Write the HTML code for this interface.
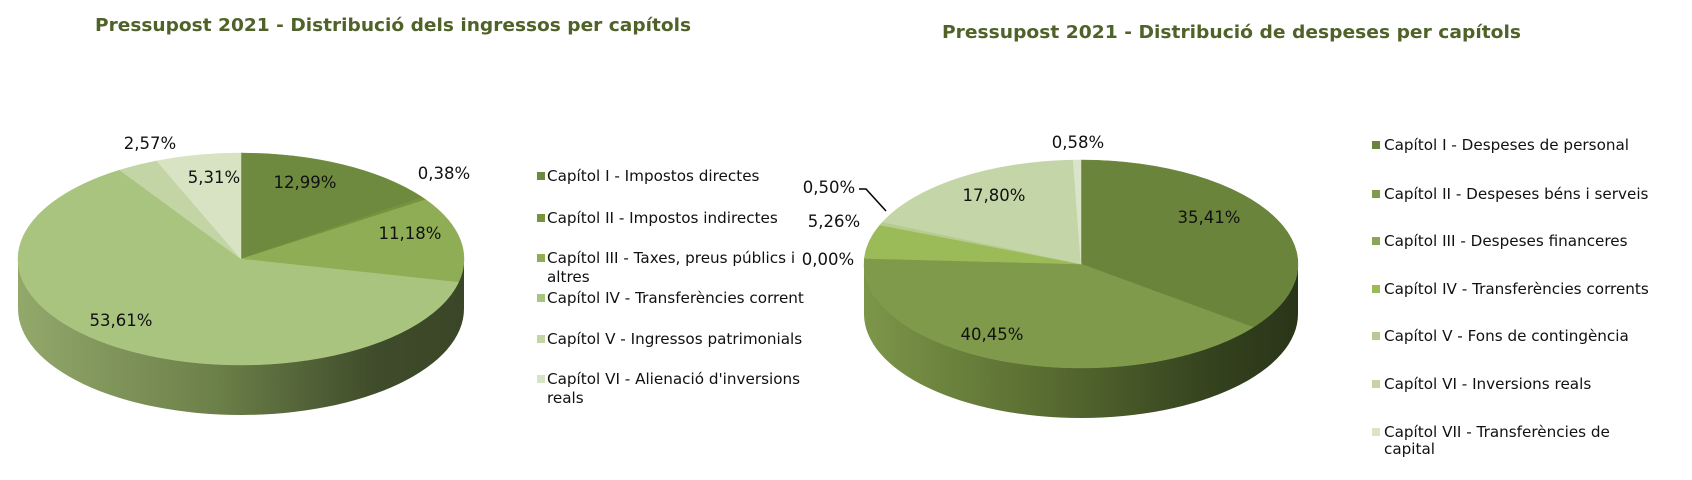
<!DOCTYPE html>
<html><head><meta charset="utf-8"><style>
body{margin:0;background:#fff;width:1692px;height:475px;overflow:hidden}
svg text{font-family:"DejaVu Sans","Liberation Sans",sans-serif}
</style></head><body>
<svg id="s" width="1692" height="475" xmlns="http://www.w3.org/2000/svg">
<defs>
<linearGradient id="gL" x1="0" x2="1" y1="0" y2="0"><stop offset="0" stop-color="#93a86b"/><stop offset="0.45" stop-color="#6b7f48"/><stop offset="0.8" stop-color="#3f4c2b"/><stop offset="1" stop-color="#3a4627"/></linearGradient>
<linearGradient id="gR" x1="0" x2="1" y1="0" y2="0"><stop offset="0" stop-color="#7c9649"/><stop offset="0.45" stop-color="#56692f"/><stop offset="0.8" stop-color="#34421e"/><stop offset="1" stop-color="#2a3518"/></linearGradient>
</defs>
<g id="pies"></g>
<text x="95" y="31" font-size="18" font-weight="bold" fill="#4f6228" textLength="596" lengthAdjust="spacingAndGlyphs">Pressupost 2021 - Distribució dels ingressos per capítols</text>
<text x="942" y="38" font-size="18" font-weight="bold" fill="#4f6228" textLength="579" lengthAdjust="spacingAndGlyphs">Pressupost 2021 - Distribució de despeses per capítols</text>
<g font-size="16.5" fill="#111" text-anchor="middle">
<text x="305" y="188">12,99%</text><text x="444" y="179">0,38%</text><text x="410" y="239">11,18%</text>
<text x="121" y="326">53,61%</text><text x="150" y="149">2,57%</text><text x="214" y="183">5,31%</text>
<text x="1078" y="148">0,58%</text><text x="994" y="201">17,80%</text><text x="1209" y="223">35,41%</text>
<text x="829" y="193">0,50%</text><text x="834" y="227">5,26%</text><text x="828" y="265">0,00%</text><text x="992" y="340">40,45%</text>
</g>
<polyline points="859,189 866,189 886,211" fill="none" stroke="#000" stroke-width="1.5"/>
<g font-size="15.2" fill="#111">
<rect x="537" y="172" width="8" height="8" fill="#6e8a3e"/><text x="547" y="181">Capítol I - Impostos directes</text>
<rect x="537" y="214" width="8" height="8" fill="#77933c"/><text x="547" y="223">Capítol II - Impostos indirectes</text>
<rect x="537" y="254" width="8" height="8" fill="#8fad55"/><text x="547" y="263">Capítol III - Taxes, preus públics i</text><text x="547" y="282">altres</text>
<rect x="537" y="294" width="8" height="8" fill="#a9c47f"/><text x="547" y="303">Capítol IV - Transferències corrent</text>
<rect x="537" y="335" width="8" height="8" fill="#c3d5a5"/><text x="547" y="344">Capítol V - Ingressos patrimonials</text>
<rect x="537" y="375" width="8" height="8" fill="#d7e3c2"/><text x="547" y="384">Capítol VI - Alienació d'inversions</text><text x="547" y="403">reals</text>
<rect x="1372" y="141" width="8" height="8" fill="#6b843b"/><text x="1384" y="150">Capítol I - Despeses de personal</text>
<rect x="1372" y="190" width="8" height="8" fill="#7f9a4a"/><text x="1384" y="199">Capítol II - Despeses béns i serveis</text>
<rect x="1372" y="237" width="8" height="8" fill="#8aa656"/><text x="1384" y="246">Capítol III - Despeses financeres</text>
<rect x="1372" y="285" width="8" height="8" fill="#9bbb59"/><text x="1384" y="294">Capítol IV - Transferències corrents</text>
<rect x="1372" y="332" width="8" height="8" fill="#b5cc8e"/><text x="1384" y="341">Capítol V - Fons de contingència</text>
<rect x="1372" y="380" width="8" height="8" fill="#c4d5a8"/><text x="1384" y="389">Capítol VI - Inversions reals</text>
<rect x="1372" y="428" width="8" height="8" fill="#d9e4c8"/><text x="1384" y="437">Capítol VII - Transferències de</text><text x="1384" y="454">capital</text>
</g>
</svg>
<script>
(function(){
var g=document.getElementById('pies');var NS='http://www.w3.org/2000/svg';
function pie(cx,cy,rx,ry,d,vals,cols,grad){
 var side=document.createElementNS(NS,'path');
 side.setAttribute('d','M'+(cx-rx)+','+cy+' A'+rx+','+ry+' 0 0 0 '+(cx+rx)+','+cy+' L'+(cx+rx)+','+(cy+d)+' A'+rx+','+ry+' 0 0 1 '+(cx-rx)+','+(cy+d)+' Z');
 side.setAttribute('fill',grad);g.appendChild(side);
 var tot=vals.reduce(function(a,b){return a+b},0),a=0;
 for(var i=0;i<vals.length;i++){
  var a2=a+vals[i]/tot*2*Math.PI;
  var x1=cx+rx*Math.sin(a),y1=cy-ry*Math.cos(a),x2=cx+rx*Math.sin(a2),y2=cy-ry*Math.cos(a2);
  var p=document.createElementNS(NS,'path');
  p.setAttribute('d','M'+cx+','+cy+' L'+x1+','+y1+' A'+rx+','+ry+' 0 '+((a2-a)>Math.PI?1:0)+' 1 '+x2+','+y2+' Z');
  p.setAttribute('fill',cols[i]);p.setAttribute('stroke',cols[i]);p.setAttribute('stroke-width','0.5');g.appendChild(p);a=a2;
 }
}
pie(241,259,223,106,50,[12.99,0.38,11.18,53.61,2.57,5.31],['#6e8a3e','#77933c','#8fad55','#a9c47f','#c3d5a5','#d7e3c2'],'url(#gL)');
pie(1081,264,217,104,50,[35.41,40.45,0.001,5.26,0.50,17.80,0.58],['#6b843b','#7f9a4a','#8aa656','#9bbb59','#b5cc8e','#c4d5a8','#d9e4c8'],'url(#gR)');
})();
</script>
</body></html>
